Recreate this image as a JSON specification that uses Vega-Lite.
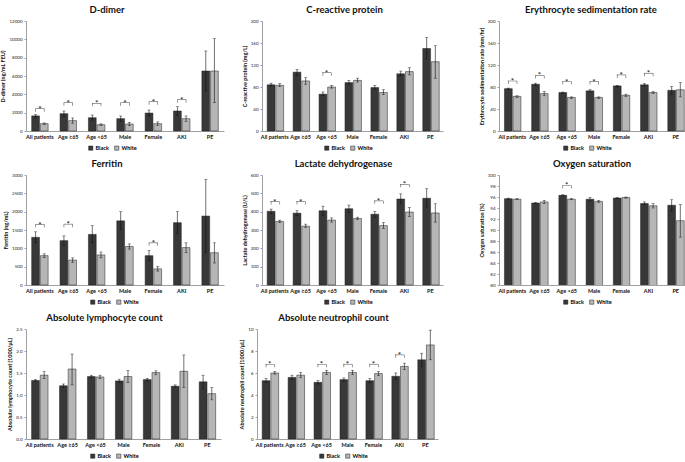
{
"$schema":"https://vega.github.io/schema/vega-lite/v6.json",
"padding":{"left":0,"top":4,"right":0,"bottom":0},
"datasets":{"d":[
{"p":"DD","g":"All patients","r":"Black","v":1650,"lo":1500,"hi":1800,"s":2440},
{"p":"DD","g":"All patients","r":"White","v":800,"lo":720,"hi":880,"s":2440},
{"p":"DD","g":"Age ≥65","r":"Black","v":1890,"lo":1600,"hi":2180,"s":3090},
{"p":"DD","g":"Age ≥65","r":"White","v":1130,"lo":850,"hi":1420,"s":3090},
{"p":"DD","g":"Age <65","r":"Black","v":1450,"lo":1200,"hi":1745,"s":3020},
{"p":"DD","g":"Age <65","r":"White","v":690,"lo":600,"hi":780,"s":3020},
{"p":"DD","g":"Male","r":"Black","v":1345,"lo":1050,"hi":1636,"s":3090},
{"p":"DD","g":"Male","r":"White","v":765,"lo":580,"hi":950,"s":3090},
{"p":"DD","g":"Female","r":"Black","v":1960,"lo":1640,"hi":2290,"s":3200},
{"p":"DD","g":"Female","r":"White","v":800,"lo":620,"hi":990,"s":3200},
{"p":"DD","g":"AKI","r":"Black","v":2180,"lo":1710,"hi":2650,"s":3420},
{"p":"DD","g":"AKI","r":"White","v":1345,"lo":1050,"hi":1640,"s":3420},
{"p":"DD","g":"PE","r":"Black","v":6545,"lo":4360,"hi":8730},
{"p":"DD","g":"PE","r":"White","v":6545,"lo":3090,"hi":10070},
{"p":"CRP","g":"All patients","r":"Black","v":84,"lo":82,"hi":87},
{"p":"CRP","g":"All patients","r":"White","v":83,"lo":81,"hi":86},
{"p":"CRP","g":"Age ≥65","r":"Black","v":107,"lo":101,"hi":112},
{"p":"CRP","g":"Age ≥65","r":"White","v":91,"lo":85,"hi":97},
{"p":"CRP","g":"Age <65","r":"Black","v":67,"lo":64,"hi":71,"s":106},
{"p":"CRP","g":"Age <65","r":"White","v":80,"lo":78,"hi":83,"s":106},
{"p":"CRP","g":"Male","r":"Black","v":88,"lo":85,"hi":92},
{"p":"CRP","g":"Male","r":"White","v":92,"lo":89,"hi":96},
{"p":"CRP","g":"Female","r":"Black","v":79,"lo":76,"hi":83},
{"p":"CRP","g":"Female","r":"White","v":70,"lo":66,"hi":75},
{"p":"CRP","g":"AKI","r":"Black","v":104,"lo":100,"hi":109},
{"p":"CRP","g":"AKI","r":"White","v":108,"lo":102,"hi":115},
{"p":"CRP","g":"PE","r":"Black","v":150,"lo":131,"hi":170},
{"p":"CRP","g":"PE","r":"White","v":126,"lo":96,"hi":155},
{"p":"ESR","g":"All patients","r":"Black","v":77,"lo":75,"hi":78,"s":91},
{"p":"ESR","g":"All patients","r":"White","v":63,"lo":61,"hi":64,"s":91},
{"p":"ESR","g":"Age ≥65","r":"Black","v":85,"lo":83,"hi":87,"s":101},
{"p":"ESR","g":"Age ≥65","r":"White","v":68,"lo":64,"hi":72,"s":101},
{"p":"ESR","g":"Age <65","r":"Black","v":70,"lo":68,"hi":71,"s":90},
{"p":"ESR","g":"Age <65","r":"White","v":61,"lo":59,"hi":62,"s":90},
{"p":"ESR","g":"Male","r":"Black","v":73,"lo":71,"hi":75,"s":90},
{"p":"ESR","g":"Male","r":"White","v":61,"lo":59,"hi":62,"s":90},
{"p":"ESR","g":"Female","r":"Black","v":82,"lo":80,"hi":83,"s":102},
{"p":"ESR","g":"Female","r":"White","v":65,"lo":63,"hi":67,"s":102},
{"p":"ESR","g":"AKI","r":"Black","v":84,"lo":82,"hi":86,"s":105},
{"p":"ESR","g":"AKI","r":"White","v":70,"lo":68,"hi":72,"s":105},
{"p":"ESR","g":"PE","r":"Black","v":74,"lo":67,"hi":81},
{"p":"ESR","g":"PE","r":"White","v":75,"lo":62,"hi":88},
{"p":"FER","g":"All patients","r":"Black","v":1300,"lo":1150,"hi":1450,"s":1650},
{"p":"FER","g":"All patients","r":"White","v":800,"lo":750,"hi":850,"s":1650},
{"p":"FER","g":"Age ≥65","r":"Black","v":1210,"lo":1080,"hi":1340,"s":1660},
{"p":"FER","g":"Age ≥65","r":"White","v":680,"lo":620,"hi":740,"s":1660},
{"p":"FER","g":"Age <65","r":"Black","v":1380,"lo":1150,"hi":1620},
{"p":"FER","g":"Age <65","r":"White","v":820,"lo":740,"hi":900},
{"p":"FER","g":"Male","r":"Black","v":1750,"lo":1500,"hi":2000},
{"p":"FER","g":"Male","r":"White","v":1050,"lo":980,"hi":1120},
{"p":"FER","g":"Female","r":"Black","v":800,"lo":670,"hi":940,"s":1150},
{"p":"FER","g":"Female","r":"White","v":440,"lo":380,"hi":510,"s":1150},
{"p":"FER","g":"AKI","r":"Black","v":1700,"lo":1400,"hi":2000},
{"p":"FER","g":"AKI","r":"White","v":1020,"lo":880,"hi":1150},
{"p":"FER","g":"PE","r":"Black","v":1880,"lo":880,"hi":2880},
{"p":"FER","g":"PE","r":"White","v":880,"lo":600,"hi":1150},
{"p":"LDH","g":"All patients","r":"Black","v":402,"lo":390,"hi":414,"s":455},
{"p":"LDH","g":"All patients","r":"White","v":347,"lo":340,"hi":354,"s":455},
{"p":"LDH","g":"Age ≥65","r":"Black","v":392,"lo":380,"hi":405,"s":455},
{"p":"LDH","g":"Age ≥65","r":"White","v":321,"lo":313,"hi":332,"s":455},
{"p":"LDH","g":"Age <65","r":"Black","v":405,"lo":380,"hi":430},
{"p":"LDH","g":"Age <65","r":"White","v":354,"lo":343,"hi":366},
{"p":"LDH","g":"Male","r":"Black","v":416,"lo":395,"hi":436},
{"p":"LDH","g":"Male","r":"White","v":363,"lo":358,"hi":370},
{"p":"LDH","g":"Female","r":"Black","v":386,"lo":368,"hi":402,"s":459},
{"p":"LDH","g":"Female","r":"White","v":324,"lo":308,"hi":340,"s":459},
{"p":"LDH","g":"AKI","r":"Black","v":469,"lo":443,"hi":497,"s":549},
{"p":"LDH","g":"AKI","r":"White","v":398,"lo":373,"hi":423,"s":549},
{"p":"LDH","g":"PE","r":"Black","v":473,"lo":425,"hi":525},
{"p":"LDH","g":"PE","r":"White","v":393,"lo":343,"hi":443},
{"p":"O2","g":"All patients","r":"Black","v":95.7,"lo":95.6,"hi":95.8},
{"p":"O2","g":"All patients","r":"White","v":95.6,"lo":95.5,"hi":95.7},
{"p":"O2","g":"Age ≥65","r":"Black","v":94.9,"lo":94.8,"hi":95.0},
{"p":"O2","g":"Age ≥65","r":"White","v":95.1,"lo":94.8,"hi":95.4},
{"p":"O2","g":"Age <65","r":"Black","v":96.3,"lo":96.2,"hi":96.4,"s":98.1},
{"p":"O2","g":"Age <65","r":"White","v":95.6,"lo":95.5,"hi":95.7,"s":98.1},
{"p":"O2","g":"Male","r":"Black","v":95.6,"lo":95.3,"hi":95.9},
{"p":"O2","g":"Male","r":"White","v":95.2,"lo":95.0,"hi":95.4},
{"p":"O2","g":"Female","r":"Black","v":95.8,"lo":95.7,"hi":95.9},
{"p":"O2","g":"Female","r":"White","v":95.9,"lo":95.8,"hi":96.0},
{"p":"O2","g":"AKI","r":"Black","v":94.8,"lo":94.6,"hi":95.1},
{"p":"O2","g":"AKI","r":"White","v":94.4,"lo":94.0,"hi":94.8},
{"p":"O2","g":"PE","r":"Black","v":94.5,"lo":93.5,"hi":95.5},
{"p":"O2","g":"PE","r":"White","v":91.7,"lo":88.7,"hi":94.6},
{"p":"LYM","g":"All patients","r":"Black","v":1.33,"lo":1.31,"hi":1.35},
{"p":"LYM","g":"All patients","r":"White","v":1.45,"lo":1.37,"hi":1.53},
{"p":"LYM","g":"Age ≥65","r":"Black","v":1.21,"lo":1.17,"hi":1.25},
{"p":"LYM","g":"Age ≥65","r":"White","v":1.59,"lo":1.23,"hi":1.93},
{"p":"LYM","g":"Age <65","r":"Black","v":1.42,"lo":1.39,"hi":1.45},
{"p":"LYM","g":"Age <65","r":"White","v":1.41,"lo":1.37,"hi":1.45},
{"p":"LYM","g":"Male","r":"Black","v":1.32,"lo":1.28,"hi":1.36},
{"p":"LYM","g":"Male","r":"White","v":1.42,"lo":1.28,"hi":1.56},
{"p":"LYM","g":"Female","r":"Black","v":1.35,"lo":1.32,"hi":1.38},
{"p":"LYM","g":"Female","r":"White","v":1.51,"lo":1.46,"hi":1.55},
{"p":"LYM","g":"AKI","r":"Black","v":1.20,"lo":1.17,"hi":1.23},
{"p":"LYM","g":"AKI","r":"White","v":1.54,"lo":1.17,"hi":1.91},
{"p":"LYM","g":"PE","r":"Black","v":1.30,"lo":1.14,"hi":1.45},
{"p":"LYM","g":"PE","r":"White","v":1.03,"lo":0.89,"hi":1.17},
{"p":"NEU","g":"All patients","r":"Black","v":5.3,"lo":5.15,"hi":5.5,"s":6.8},
{"p":"NEU","g":"All patients","r":"White","v":6.0,"lo":5.9,"hi":6.15,"s":6.8},
{"p":"NEU","g":"Age ≥65","r":"Black","v":5.6,"lo":5.4,"hi":5.8},
{"p":"NEU","g":"Age ≥65","r":"White","v":5.8,"lo":5.6,"hi":6.05},
{"p":"NEU","g":"Age <65","r":"Black","v":5.15,"lo":5.0,"hi":5.3,"s":6.8},
{"p":"NEU","g":"Age <65","r":"White","v":6.05,"lo":5.85,"hi":6.25,"s":6.8},
{"p":"NEU","g":"Male","r":"Black","v":5.4,"lo":5.25,"hi":5.55,"s":6.8},
{"p":"NEU","g":"Male","r":"White","v":6.05,"lo":5.85,"hi":6.25,"s":6.8},
{"p":"NEU","g":"Female","r":"Black","v":5.3,"lo":5.1,"hi":5.5,"s":6.8},
{"p":"NEU","g":"Female","r":"White","v":5.95,"lo":5.75,"hi":6.15,"s":6.8},
{"p":"NEU","g":"AKI","r":"Black","v":5.7,"lo":5.4,"hi":6.0,"s":7.65},
{"p":"NEU","g":"AKI","r":"White","v":6.6,"lo":6.3,"hi":6.9,"s":7.65},
{"p":"NEU","g":"PE","r":"Black","v":7.2,"lo":6.6,"hi":7.8},
{"p":"NEU","g":"PE","r":"White","v":8.55,"lo":7.2,"hi":9.9}
]},
"resolve":{"scale":{"color":"independent"},"legend":{"color":"independent"}},
"spacing":6,
"vconcat":[
{"spacing":18,"resolve":{"scale":{"color":"independent"},"legend":{"color":"independent"}},"hconcat":[
{"title":{"text":"D-dimer","dx":-18},"width":198,"height":110,"data":{"name":"d"},"transform":[{"filter":"datum.p=='DD'"}],
"encoding":{"x":{"field":"g","type":"nominal","sort":["All patients","Age ≥65","Age <65","Male","Female","AKI","PE"],"title":null,"scale":{"paddingInner":0.42,"paddingOuter":0.2}}},
"layer":[
{"mark":{"type":"bar","stroke":"#1e1e1e","strokeWidth":0.5},"encoding":{"xOffset":{"field":"r","type":"nominal","scale":{"paddingInner":0.1}},"y":{"field":"v","type":"quantitative","title":"D-dimer (ng/mL FEU)","scale":{"domain":[0,12000],"nice":false},"axis":{"values":[0,2000,4000,6000,8000,10000,12000],"format":"d"}},"color":{"field":"r","type":"nominal","scale":{"domain":["Black","White"],"range":["#383838","#b6b6b6"]},"legend":{"title":null,"orient":"none","legendX":62,"legendY":124}}}},
{"mark":{"type":"rule","color":"#111","strokeWidth":0.6},"encoding":{"xOffset":{"field":"r","type":"nominal"},"y":{"field":"lo","type":"quantitative","title":"D-dimer (ng/mL FEU)","axis":{"values":[0,2000,4000,6000,8000,10000,12000],"format":"d"}},"y2":{"field":"hi"}}},
{"mark":{"type":"tick","color":"#111","size":3,"thickness":0.6},"encoding":{"xOffset":{"field":"r","type":"nominal"},"y":{"field":"hi","type":"quantitative","title":"D-dimer (ng/mL FEU)","axis":{"values":[0,2000,4000,6000,8000,10000,12000],"format":"d"}}}},
{"mark":{"type":"tick","color":"#111","size":3,"thickness":0.6},"encoding":{"xOffset":{"field":"r","type":"nominal"},"y":{"field":"lo","type":"quantitative","title":"D-dimer (ng/mL FEU)","axis":{"values":[0,2000,4000,6000,8000,10000,12000],"format":"d"}}}},
{"transform":[{"filter":"isValid(datum.s)"}],"mark":{"type":"tick","orient":"vertical","color":"#111","size":3,"thickness":0.6,"yOffset":1.5},"encoding":{"xOffset":{"field":"r","type":"nominal"},"y":{"field":"s","type":"quantitative","title":"D-dimer (ng/mL FEU)","axis":{"values":[0,2000,4000,6000,8000,10000,12000],"format":"d"}}}},
{"transform":[{"filter":"isValid(datum.s) && datum.r=='Black'"}],"mark":{"type":"tick","color":"#111","size":9,"thickness":0.6},"encoding":{"y":{"field":"s","type":"quantitative","title":"D-dimer (ng/mL FEU)","axis":{"values":[0,2000,4000,6000,8000,10000,12000],"format":"d"}}}},
{"transform":[{"filter":"isValid(datum.s) && datum.r=='Black'"}],"mark":{"type":"text","text":"*","fontSize":8,"dy":3,"baseline":"alphabetic","color":"#111"},"encoding":{"y":{"field":"s","type":"quantitative","title":"D-dimer (ng/mL FEU)","axis":{"values":[0,2000,4000,6000,8000,10000,12000],"format":"d"}}}}
]},
{"spacing":36,"resolve":{"scale":{"color":"independent"},"legend":{"color":"independent"}},"hconcat":[
{"title":{"text":"C-reactive protein","dx":-8},"width":181,"height":110,"data":{"name":"d"},"transform":[{"filter":"datum.p=='CRP'"}],
"encoding":{"x":{"field":"g","type":"nominal","sort":["All patients","Age ≥65","Age <65","Male","Female","AKI","PE"],"title":null,"scale":{"paddingInner":0.42,"paddingOuter":0.2}}},
"layer":[
{"mark":{"type":"bar","stroke":"#1e1e1e","strokeWidth":0.5},"encoding":{"xOffset":{"field":"r","type":"nominal","scale":{"paddingInner":0.1}},"y":{"field":"v","type":"quantitative","title":"C-reactive protein (mg/L)","scale":{"domain":[0,200],"nice":false},"axis":{"values":[0,40,80,120,160,200]}},"color":{"field":"r","type":"nominal","scale":{"domain":["Black","White"],"range":["#383838","#b6b6b6"]},"legend":{"title":null,"orient":"none","legendX":62,"legendY":124}}}},
{"mark":{"type":"rule","color":"#111","strokeWidth":0.6},"encoding":{"xOffset":{"field":"r","type":"nominal"},"y":{"field":"lo","type":"quantitative","title":"C-reactive protein (mg/L)","axis":{"values":[0,40,80,120,160,200]}},"y2":{"field":"hi"}}},
{"mark":{"type":"tick","color":"#111","size":3,"thickness":0.6},"encoding":{"xOffset":{"field":"r","type":"nominal"},"y":{"field":"hi","type":"quantitative","title":"C-reactive protein (mg/L)","axis":{"values":[0,40,80,120,160,200]}}}},
{"mark":{"type":"tick","color":"#111","size":3,"thickness":0.6},"encoding":{"xOffset":{"field":"r","type":"nominal"},"y":{"field":"lo","type":"quantitative","title":"C-reactive protein (mg/L)","axis":{"values":[0,40,80,120,160,200]}}}},
{"transform":[{"filter":"isValid(datum.s)"}],"mark":{"type":"tick","orient":"vertical","color":"#111","size":3,"thickness":0.6,"yOffset":1.5},"encoding":{"xOffset":{"field":"r","type":"nominal"},"y":{"field":"s","type":"quantitative","title":"C-reactive protein (mg/L)","axis":{"values":[0,40,80,120,160,200]}}}},
{"transform":[{"filter":"isValid(datum.s) && datum.r=='Black'"}],"mark":{"type":"tick","color":"#111","size":9,"thickness":0.6},"encoding":{"y":{"field":"s","type":"quantitative","title":"C-reactive protein (mg/L)","axis":{"values":[0,40,80,120,160,200]}}}},
{"transform":[{"filter":"isValid(datum.s) && datum.r=='Black'"}],"mark":{"type":"text","text":"*","fontSize":8,"dy":3,"baseline":"alphabetic","color":"#111"},"encoding":{"y":{"field":"s","type":"quantitative","title":"C-reactive protein (mg/L)","axis":{"values":[0,40,80,120,160,200]}}}}
]},
{"title":{"text":"Erythrocyte sedimentation rate","dx":-3},"width":190,"height":110,"data":{"name":"d"},"transform":[{"filter":"datum.p=='ESR'"}],
"encoding":{"x":{"field":"g","type":"nominal","sort":["All patients","Age ≥65","Age <65","Male","Female","AKI","PE"],"title":null,"scale":{"paddingInner":0.42,"paddingOuter":0.2}}},
"layer":[
{"mark":{"type":"bar","stroke":"#1e1e1e","strokeWidth":0.5},"encoding":{"xOffset":{"field":"r","type":"nominal","scale":{"paddingInner":0.1}},"y":{"field":"v","type":"quantitative","title":"Erythrocyte sedimentation rate (mm/hr)","scale":{"domain":[0,200],"nice":false},"axis":{"values":[0,40,80,120,160,200]}},"color":{"field":"r","type":"nominal","scale":{"domain":["Black","White"],"range":["#383838","#b6b6b6"]},"legend":{"title":null,"orient":"none","legendX":64,"legendY":124}}}},
{"mark":{"type":"rule","color":"#111","strokeWidth":0.6},"encoding":{"xOffset":{"field":"r","type":"nominal"},"y":{"field":"lo","type":"quantitative","title":"Erythrocyte sedimentation rate (mm/hr)","axis":{"values":[0,40,80,120,160,200]}},"y2":{"field":"hi"}}},
{"mark":{"type":"tick","color":"#111","size":3,"thickness":0.6},"encoding":{"xOffset":{"field":"r","type":"nominal"},"y":{"field":"hi","type":"quantitative","title":"Erythrocyte sedimentation rate (mm/hr)","axis":{"values":[0,40,80,120,160,200]}}}},
{"mark":{"type":"tick","color":"#111","size":3,"thickness":0.6},"encoding":{"xOffset":{"field":"r","type":"nominal"},"y":{"field":"lo","type":"quantitative","title":"Erythrocyte sedimentation rate (mm/hr)","axis":{"values":[0,40,80,120,160,200]}}}},
{"transform":[{"filter":"isValid(datum.s)"}],"mark":{"type":"tick","orient":"vertical","color":"#111","size":3,"thickness":0.6,"yOffset":1.5},"encoding":{"xOffset":{"field":"r","type":"nominal"},"y":{"field":"s","type":"quantitative","title":"Erythrocyte sedimentation rate (mm/hr)","axis":{"values":[0,40,80,120,160,200]}}}},
{"transform":[{"filter":"isValid(datum.s) && datum.r=='Black'"}],"mark":{"type":"tick","color":"#111","size":9,"thickness":0.6},"encoding":{"y":{"field":"s","type":"quantitative","title":"Erythrocyte sedimentation rate (mm/hr)","axis":{"values":[0,40,80,120,160,200]}}}},
{"transform":[{"filter":"isValid(datum.s) && datum.r=='Black'"}],"mark":{"type":"text","text":"*","fontSize":8,"dy":3,"baseline":"alphabetic","color":"#111"},"encoding":{"y":{"field":"s","type":"quantitative","title":"Erythrocyte sedimentation rate (mm/hr)","axis":{"values":[0,40,80,120,160,200]}}}}
]}
]}
]},
{"spacing":6,"resolve":{"scale":{"color":"independent"},"legend":{"color":"independent"}},"vconcat":[
{"spacing":18,"resolve":{"scale":{"color":"independent"},"legend":{"color":"independent"}},"hconcat":[
{"title":{"text":"Ferritin","dx":-18},"width":198,"height":110,"data":{"name":"d"},"transform":[{"filter":"datum.p=='FER'"}],
"encoding":{"x":{"field":"g","type":"nominal","sort":["All patients","Age ≥65","Age <65","Male","Female","AKI","PE"],"title":null,"scale":{"paddingInner":0.42,"paddingOuter":0.2}}},
"layer":[
{"mark":{"type":"bar","stroke":"#1e1e1e","strokeWidth":0.5},"encoding":{"xOffset":{"field":"r","type":"nominal","scale":{"paddingInner":0.1}},"y":{"field":"v","type":"quantitative","title":"Ferritin (ng/mL)","scale":{"domain":[0,3000],"nice":false},"axis":{"values":[0,500,1000,1500,2000,2500,3000],"format":"d"}},"color":{"field":"r","type":"nominal","scale":{"domain":["Black","White"],"range":["#383838","#b6b6b6"]},"legend":{"title":null,"orient":"none","legendX":64,"legendY":124}}}},
{"mark":{"type":"rule","color":"#111","strokeWidth":0.6},"encoding":{"xOffset":{"field":"r","type":"nominal"},"y":{"field":"lo","type":"quantitative","title":"Ferritin (ng/mL)","axis":{"values":[0,500,1000,1500,2000,2500,3000],"format":"d"}},"y2":{"field":"hi"}}},
{"mark":{"type":"tick","color":"#111","size":3,"thickness":0.6},"encoding":{"xOffset":{"field":"r","type":"nominal"},"y":{"field":"hi","type":"quantitative","title":"Ferritin (ng/mL)","axis":{"values":[0,500,1000,1500,2000,2500,3000],"format":"d"}}}},
{"mark":{"type":"tick","color":"#111","size":3,"thickness":0.6},"encoding":{"xOffset":{"field":"r","type":"nominal"},"y":{"field":"lo","type":"quantitative","title":"Ferritin (ng/mL)","axis":{"values":[0,500,1000,1500,2000,2500,3000],"format":"d"}}}},
{"transform":[{"filter":"isValid(datum.s)"}],"mark":{"type":"tick","orient":"vertical","color":"#111","size":3,"thickness":0.6,"yOffset":1.5},"encoding":{"xOffset":{"field":"r","type":"nominal"},"y":{"field":"s","type":"quantitative","title":"Ferritin (ng/mL)","axis":{"values":[0,500,1000,1500,2000,2500,3000],"format":"d"}}}},
{"transform":[{"filter":"isValid(datum.s) && datum.r=='Black'"}],"mark":{"type":"tick","color":"#111","size":9,"thickness":0.6},"encoding":{"y":{"field":"s","type":"quantitative","title":"Ferritin (ng/mL)","axis":{"values":[0,500,1000,1500,2000,2500,3000],"format":"d"}}}},
{"transform":[{"filter":"isValid(datum.s) && datum.r=='Black'"}],"mark":{"type":"text","text":"*","fontSize":8,"dy":3,"baseline":"alphabetic","color":"#111"},"encoding":{"y":{"field":"s","type":"quantitative","title":"Ferritin (ng/mL)","axis":{"values":[0,500,1000,1500,2000,2500,3000],"format":"d"}}}}
]},
{"spacing":36,"resolve":{"scale":{"color":"independent"},"legend":{"color":"independent"}},"hconcat":[
{"title":{"text":"Lactate dehydrogenase","dx":-9},"width":181,"height":110,"data":{"name":"d"},"transform":[{"filter":"datum.p=='LDH'"}],
"encoding":{"x":{"field":"g","type":"nominal","sort":["All patients","Age ≥65","Age <65","Male","Female","AKI","PE"],"title":null,"scale":{"paddingInner":0.42,"paddingOuter":0.2}}},
"layer":[
{"mark":{"type":"bar","stroke":"#1e1e1e","strokeWidth":0.5},"encoding":{"xOffset":{"field":"r","type":"nominal","scale":{"paddingInner":0.1}},"y":{"field":"v","type":"quantitative","title":"Lactate dehydrogenase (U/L)","scale":{"domain":[0,600],"nice":false},"axis":{"values":[0,100,200,300,400,500,600]}},"color":{"field":"r","type":"nominal","scale":{"domain":["Black","White"],"range":["#383838","#b6b6b6"]},"legend":{"title":null,"orient":"none","legendX":62,"legendY":124}}}},
{"mark":{"type":"rule","color":"#111","strokeWidth":0.6},"encoding":{"xOffset":{"field":"r","type":"nominal"},"y":{"field":"lo","type":"quantitative","title":"Lactate dehydrogenase (U/L)","axis":{"values":[0,100,200,300,400,500,600]}},"y2":{"field":"hi"}}},
{"mark":{"type":"tick","color":"#111","size":3,"thickness":0.6},"encoding":{"xOffset":{"field":"r","type":"nominal"},"y":{"field":"hi","type":"quantitative","title":"Lactate dehydrogenase (U/L)","axis":{"values":[0,100,200,300,400,500,600]}}}},
{"mark":{"type":"tick","color":"#111","size":3,"thickness":0.6},"encoding":{"xOffset":{"field":"r","type":"nominal"},"y":{"field":"lo","type":"quantitative","title":"Lactate dehydrogenase (U/L)","axis":{"values":[0,100,200,300,400,500,600]}}}},
{"transform":[{"filter":"isValid(datum.s)"}],"mark":{"type":"tick","orient":"vertical","color":"#111","size":3,"thickness":0.6,"yOffset":1.5},"encoding":{"xOffset":{"field":"r","type":"nominal"},"y":{"field":"s","type":"quantitative","title":"Lactate dehydrogenase (U/L)","axis":{"values":[0,100,200,300,400,500,600]}}}},
{"transform":[{"filter":"isValid(datum.s) && datum.r=='Black'"}],"mark":{"type":"tick","color":"#111","size":9,"thickness":0.6},"encoding":{"y":{"field":"s","type":"quantitative","title":"Lactate dehydrogenase (U/L)","axis":{"values":[0,100,200,300,400,500,600]}}}},
{"transform":[{"filter":"isValid(datum.s) && datum.r=='Black'"}],"mark":{"type":"text","text":"*","fontSize":8,"dy":3,"baseline":"alphabetic","color":"#111"},"encoding":{"y":{"field":"s","type":"quantitative","title":"Lactate dehydrogenase (U/L)","axis":{"values":[0,100,200,300,400,500,600]}}}}
]},
{"title":{"text":"Oxygen saturation","dx":-2},"width":190,"height":110,"data":{"name":"d"},"transform":[{"filter":"datum.p=='O2'"}],
"encoding":{"x":{"field":"g","type":"nominal","sort":["All patients","Age ≥65","Age <65","Male","Female","AKI","PE"],"title":null,"scale":{"paddingInner":0.42,"paddingOuter":0.2}}},
"layer":[
{"mark":{"type":"bar","stroke":"#1e1e1e","strokeWidth":0.5,"clip":true},"encoding":{"xOffset":{"field":"r","type":"nominal","scale":{"paddingInner":0.1}},"y":{"field":"v","type":"quantitative","title":"Oxygen saturation (%)","scale":{"domain":[80,100],"nice":false,"zero":false},"axis":{"values":[80,82,84,86,88,90,92,94,96,98,100]}},"color":{"field":"r","type":"nominal","scale":{"domain":["Black","White"],"range":["#383838","#b6b6b6"]},"legend":{"title":null,"orient":"none","legendX":64,"legendY":124}}}},
{"mark":{"type":"rule","color":"#111","strokeWidth":0.6},"encoding":{"xOffset":{"field":"r","type":"nominal"},"y":{"field":"lo","type":"quantitative","title":"Oxygen saturation (%)","axis":{"values":[80,82,84,86,88,90,92,94,96,98,100]}},"y2":{"field":"hi"}}},
{"mark":{"type":"tick","color":"#111","size":3,"thickness":0.6},"encoding":{"xOffset":{"field":"r","type":"nominal"},"y":{"field":"hi","type":"quantitative","title":"Oxygen saturation (%)","axis":{"values":[80,82,84,86,88,90,92,94,96,98,100]}}}},
{"mark":{"type":"tick","color":"#111","size":3,"thickness":0.6},"encoding":{"xOffset":{"field":"r","type":"nominal"},"y":{"field":"lo","type":"quantitative","title":"Oxygen saturation (%)","axis":{"values":[80,82,84,86,88,90,92,94,96,98,100]}}}},
{"transform":[{"filter":"isValid(datum.s)"}],"mark":{"type":"tick","orient":"vertical","color":"#111","size":3,"thickness":0.6,"yOffset":1.5},"encoding":{"xOffset":{"field":"r","type":"nominal"},"y":{"field":"s","type":"quantitative","title":"Oxygen saturation (%)","axis":{"values":[80,82,84,86,88,90,92,94,96,98,100]}}}},
{"transform":[{"filter":"isValid(datum.s) && datum.r=='Black'"}],"mark":{"type":"tick","color":"#111","size":9,"thickness":0.6},"encoding":{"y":{"field":"s","type":"quantitative","title":"Oxygen saturation (%)","axis":{"values":[80,82,84,86,88,90,92,94,96,98,100]}}}},
{"transform":[{"filter":"isValid(datum.s) && datum.r=='Black'"}],"mark":{"type":"text","text":"*","fontSize":8,"dy":3,"baseline":"alphabetic","color":"#111"},"encoding":{"y":{"field":"s","type":"quantitative","title":"Oxygen saturation (%)","axis":{"values":[80,82,84,86,88,90,92,94,96,98,100]}}}}
]}
]}
]},
{"spacing":18,"resolve":{"scale":{"color":"independent"},"legend":{"color":"independent"}},"hconcat":[
{"title":{"text":"Absolute lymphocyte count","dx":-19},"width":195,"height":110,"data":{"name":"d"},"transform":[{"filter":"datum.p=='LYM'"}],
"encoding":{"x":{"field":"g","type":"nominal","sort":["All patients","Age ≥65","Age <65","Male","Female","AKI","PE"],"title":null,"scale":{"paddingInner":0.42,"paddingOuter":0.2}}},
"layer":[
{"mark":{"type":"bar","stroke":"#1e1e1e","strokeWidth":0.5},"encoding":{"xOffset":{"field":"r","type":"nominal","scale":{"paddingInner":0.1}},"y":{"field":"v","type":"quantitative","title":"Absolute lymphocyte count (1000/μL)","scale":{"domain":[0,2.5],"nice":false},"axis":{"values":[0,0.5,1,1.5,2,2.5],"format":".1f"}},"color":{"field":"r","type":"nominal","scale":{"domain":["Black","White"],"range":["#383838","#b6b6b6"]},"legend":{"title":null,"orient":"none","legendX":64,"legendY":124}}}},
{"mark":{"type":"rule","color":"#111","strokeWidth":0.6},"encoding":{"xOffset":{"field":"r","type":"nominal"},"y":{"field":"lo","type":"quantitative","title":"Absolute lymphocyte count (1000/μL)","axis":{"values":[0,0.5,1,1.5,2,2.5],"format":".1f"}},"y2":{"field":"hi"}}},
{"mark":{"type":"tick","color":"#111","size":3,"thickness":0.6},"encoding":{"xOffset":{"field":"r","type":"nominal"},"y":{"field":"hi","type":"quantitative","title":"Absolute lymphocyte count (1000/μL)","axis":{"values":[0,0.5,1,1.5,2,2.5],"format":".1f"}}}},
{"mark":{"type":"tick","color":"#111","size":3,"thickness":0.6},"encoding":{"xOffset":{"field":"r","type":"nominal"},"y":{"field":"lo","type":"quantitative","title":"Absolute lymphocyte count (1000/μL)","axis":{"values":[0,0.5,1,1.5,2,2.5],"format":".1f"}}}}
]},
{"title":{"text":"Absolute neutrophil count","dx":-14},"width":181,"height":110,"data":{"name":"d"},"transform":[{"filter":"datum.p=='NEU'"}],
"encoding":{"x":{"field":"g","type":"nominal","sort":["All patients","Age ≥65","Age <65","Male","Female","AKI","PE"],"title":null,"scale":{"paddingInner":0.42,"paddingOuter":0.2}}},
"layer":[
{"mark":{"type":"bar","stroke":"#1e1e1e","strokeWidth":0.5},"encoding":{"xOffset":{"field":"r","type":"nominal","scale":{"paddingInner":0.1}},"y":{"field":"v","type":"quantitative","title":"Absolute neutrophil count (1000/μL)","scale":{"domain":[0,10],"nice":false},"axis":{"values":[0,2,4,6,8,10]}},"color":{"field":"r","type":"nominal","scale":{"domain":["Black","White"],"range":["#383838","#b6b6b6"]},"legend":{"title":null,"orient":"none","legendX":62,"legendY":124}}}},
{"mark":{"type":"rule","color":"#111","strokeWidth":0.6},"encoding":{"xOffset":{"field":"r","type":"nominal"},"y":{"field":"lo","type":"quantitative","title":"Absolute neutrophil count (1000/μL)","axis":{"values":[0,2,4,6,8,10]}},"y2":{"field":"hi"}}},
{"mark":{"type":"tick","color":"#111","size":3,"thickness":0.6},"encoding":{"xOffset":{"field":"r","type":"nominal"},"y":{"field":"hi","type":"quantitative","title":"Absolute neutrophil count (1000/μL)","axis":{"values":[0,2,4,6,8,10]}}}},
{"mark":{"type":"tick","color":"#111","size":3,"thickness":0.6},"encoding":{"xOffset":{"field":"r","type":"nominal"},"y":{"field":"lo","type":"quantitative","title":"Absolute neutrophil count (1000/μL)","axis":{"values":[0,2,4,6,8,10]}}}},
{"transform":[{"filter":"isValid(datum.s)"}],"mark":{"type":"tick","orient":"vertical","color":"#111","size":3,"thickness":0.6,"yOffset":1.5},"encoding":{"xOffset":{"field":"r","type":"nominal"},"y":{"field":"s","type":"quantitative","title":"Absolute neutrophil count (1000/μL)","axis":{"values":[0,2,4,6,8,10]}}}},
{"transform":[{"filter":"isValid(datum.s) && datum.r=='Black'"}],"mark":{"type":"tick","color":"#111","size":9,"thickness":0.6},"encoding":{"y":{"field":"s","type":"quantitative","title":"Absolute neutrophil count (1000/μL)","axis":{"values":[0,2,4,6,8,10]}}}},
{"transform":[{"filter":"isValid(datum.s) && datum.r=='Black'"}],"mark":{"type":"text","text":"*","fontSize":8,"dy":3,"baseline":"alphabetic","color":"#111"},"encoding":{"y":{"field":"s","type":"quantitative","title":"Absolute neutrophil count (1000/μL)","axis":{"values":[0,2,4,6,8,10]}}}}
]}
]}
]}
],
"config":{
"font":"Lato",
"view":{"stroke":null},
"title":{"fontSize":9.5,"fontWeight":"bold","offset":4,"color":"#111"},
"axisX":{"labelAngle":0,"labelFontSize":5.5,"labelFontWeight":"bold","ticks":false,"domainColor":"#a0a0a0","labelPadding":3,"labelOverlap":false,"labelColor":"#111"},
"axisY":{"labelFontSize":4.5,"titleFontSize":5.5,"titleFontWeight":"bold","grid":false,"domainColor":"#a0a0a0","tickColor":"#a0a0a0","tickSize":2,"labelPadding":2,"titlePadding":3,"labelColor":"#222","titleColor":"#111","labelOverlap":false},
"legend":{"direction":"horizontal","symbolType":"square","symbolSize":18,"labelFontSize":5.5,"labelFontWeight":"bold","symbolStrokeColor":"#222","symbolStrokeWidth":0.5,"columnPadding":4,"labelOffset":2,"padding":0}
}
}
